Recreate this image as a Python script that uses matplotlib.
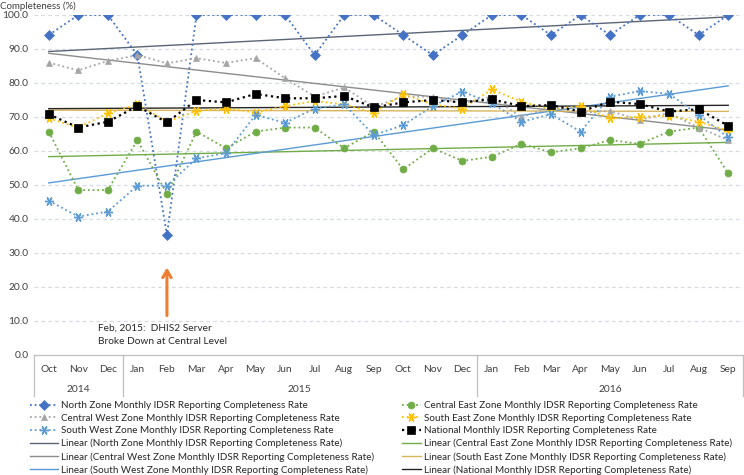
import numpy as np
import matplotlib
matplotlib.use("Agg")
import matplotlib.pyplot as plt
from matplotlib.lines import Line2D
import matplotlib.transforms as mtransforms

plt.rcParams['font.family'] = ['Lato', 'DejaVu Sans']

months = ["Oct", "Nov", "Dec", "Jan", "Feb", "Mar", "Apr", "May", "Jun", "Jul", "Aug", "Sep",
          "Oct", "Nov", "Dec", "Jan", "Feb", "Mar", "Apr", "May", "Jun", "Jul", "Aug", "Sep"]
years = ["2014", "2015", "2016"]
year_spans = [(0, 2), (3, 14), (15, 23)]

north = [94.1, 100, 100, 88.2, 35.3, 100, 100, 100, 100, 88.2, 100, 100,
         94.1, 88.2, 94.1, 100, 100, 94.1, 100, 94.1, 100, 100, 94.1, 100]
central_east = [65.7, 48.5, 48.5, 63.2, 47.4, 65.7, 60.8, 65.7, 66.9, 66.9, 60.8, 65.7,
                54.6, 60.8, 57.1, 58.3, 62.1, 59.6, 60.8, 63.2, 62.1, 65.7, 66.9, 53.4]
central_west = [86.0, 83.7, 86.5, 88.2, 85.8, 87.3, 85.9, 87.3, 81.4, 76.0, 78.7, 73.0,
                76.0, 76.0, 74.0, 76.0, 69.9, 73.0, 71.2, 71.8, 69.1, 71.2, 66.9, 63.2]
south_east = [69.6, 66.9, 71.1, 73.7, 68.6, 71.8, 72.5, 71.3, 73.2, 74.7, 73.7, 71.3,
              76.7, 73.7, 72.5, 78.1, 74.5, 72.2, 73.2, 69.6, 70.1, 70.3, 68.6, 66.0]
south_west = [45.4, 40.7, 42.2, 49.8, 49.8, 57.8, 59.4, 70.6, 68.3, 72.5, 73.7, 64.7,
              67.6, 73.2, 77.5, 74.0, 68.6, 70.8, 65.7, 76.0, 77.6, 76.8, 70.6, 64.0]
national = [70.8, 66.9, 68.6, 73.2, 68.4, 75.0, 74.3, 76.8, 75.5, 75.5, 76.2, 72.8,
            74.3, 75.0, 74.3, 75.2, 73.2, 73.5, 71.6, 74.5, 73.8, 71.6, 72.3, 67.4]

series_names = ["North Zone", "Central East Zone", "Central West Zone",
                "South East Zone", "South West Zone", "National"]
series_vals = [north, central_east, central_west, south_east, south_west, national]
colors = ["#4472C4", "#70AD47", "#A5A5A5", "#FFC000", "#5B9BD5", "#000000"]
markers = ["D", "o", "^", (6, 2, 90), (6, 2, 90), "s"]
msizes = [5.5, 5, 5, 6.5, 6.5, 5.5]
trend_colors = ["#5A6577", "#70AD47", "#8C8C8C", "#D9B45A", "#5B9BD5", "#262626"]

fig = plt.figure(figsize=(7.44, 4.75), dpi=100)
ax = fig.add_axes([34/744, (475-355)/475, (743-34)/744, 340/475])

x = np.arange(len(months))
data_handles = []
trend_handles = []
for name, vals, c, m, ms in zip(series_names, series_vals, colors, markers, msizes):
    lab = name + " Monthly IDSR Reporting Completeness Rate"
    ls = (0, (1, 1.6))
    h, = ax.plot(x, vals, linestyle=ls, color=c, lw=1.3 if c != "#000000" else 1.6,
                 marker=m, markersize=ms, markeredgecolor=c, markerfacecolor=c,
                 markeredgewidth=1.0 if isinstance(m, tuple) else 0.5, label=lab, zorder=3)
    data_handles.append(h)
for name, vals, tc in zip(series_names, series_vals, trend_colors):
    lab = "Linear (" + name + " Monthly IDSR Reporting Completeness Rate)"
    coef = np.polyfit(x, vals, 1)
    yfit = np.polyval(coef, x)
    h, = ax.plot(x, yfit, color=tc, lw=1.0, label=lab, zorder=2)
    trend_handles.append(h)

ax.set_xlim(-0.5, len(months) - 0.5)
ax.set_ylim(0, 100)
ax.set_yticks(np.arange(0, 101, 10))
ax.set_yticklabels([f"{v:.1f}" for v in np.arange(0, 101, 10)], fontsize=7.4, color="#404040")
ax.tick_params(axis='y', length=0, pad=4)
ax.set_xticks([])
for s in ["top", "right", "left"]:
    ax.spines[s].set_visible(False)
ax.spines["bottom"].set_color("#BFBFBF")
ax.spines["bottom"].set_linewidth(0.9)
for v in np.arange(10, 101, 10):
    ax.axhline(v, color="#D5DAE3", lw=0.9, linestyle=(0, (3, 2.5)), zorder=0)

trans = mtransforms.blended_transform_factory(ax.transData, ax.transAxes)
for i, mname in enumerate(months):
    ax.text(i, -0.044, mname, transform=trans, ha='center', va='center', fontsize=7.4, color="#404040")
for yr, (a, b) in zip(years, year_spans):
    ax.text((a + b) / 2, -0.100, yr, transform=trans, ha='center', va='center', fontsize=7.4, color="#404040")
for bx in [-0.5, 2.5, 14.5, 23.5]:
    ax.add_line(Line2D([bx, bx], [0, -0.12], transform=trans, color="#BFBFBF", lw=0.9, clip_on=False))

fig.text(0.0, 1 - 6/475, "Completeness (%)", fontsize=7, color="#404040", ha='left', va='center')

ax.annotate('', xy=(4, 26.5), xytext=(4, 10.8),
            arrowprops=dict(arrowstyle='->,head_length=0.5,head_width=0.3', color='#ED7D31', lw=2.2))
ax.text(1.65, (355-328)/3.4, "Feb, 2015:  DHIS2 Server", fontsize=7.3, color="#262626", ha='left', va='center')
ax.text(1.65, (355-342)/3.4, "Broke Down at Central Level", fontsize=7.3, color="#262626", ha='left', va='center')

left_h = [data_handles[0], data_handles[2], data_handles[4], trend_handles[0], trend_handles[2], trend_handles[4]]
right_h = [data_handles[1], data_handles[3], data_handles[5], trend_handles[1], trend_handles[3], trend_handles[5]]
for hs, xa, hl in [(left_h, 30/744, 2.8), (right_h, 402/744, 1.9)]:
    fig.legend(handles=hs, labels=[h.get_label() for h in hs], loc='upper left',
               bbox_to_anchor=(xa, 1 - 401/475), frameon=False, fontsize=7.1,
               handlelength=hl, handletextpad=0.3, labelspacing=0.37, borderpad=0,
               borderaxespad=0, labelcolor="#262626")

fig.savefig("out.png", dpi=100)
